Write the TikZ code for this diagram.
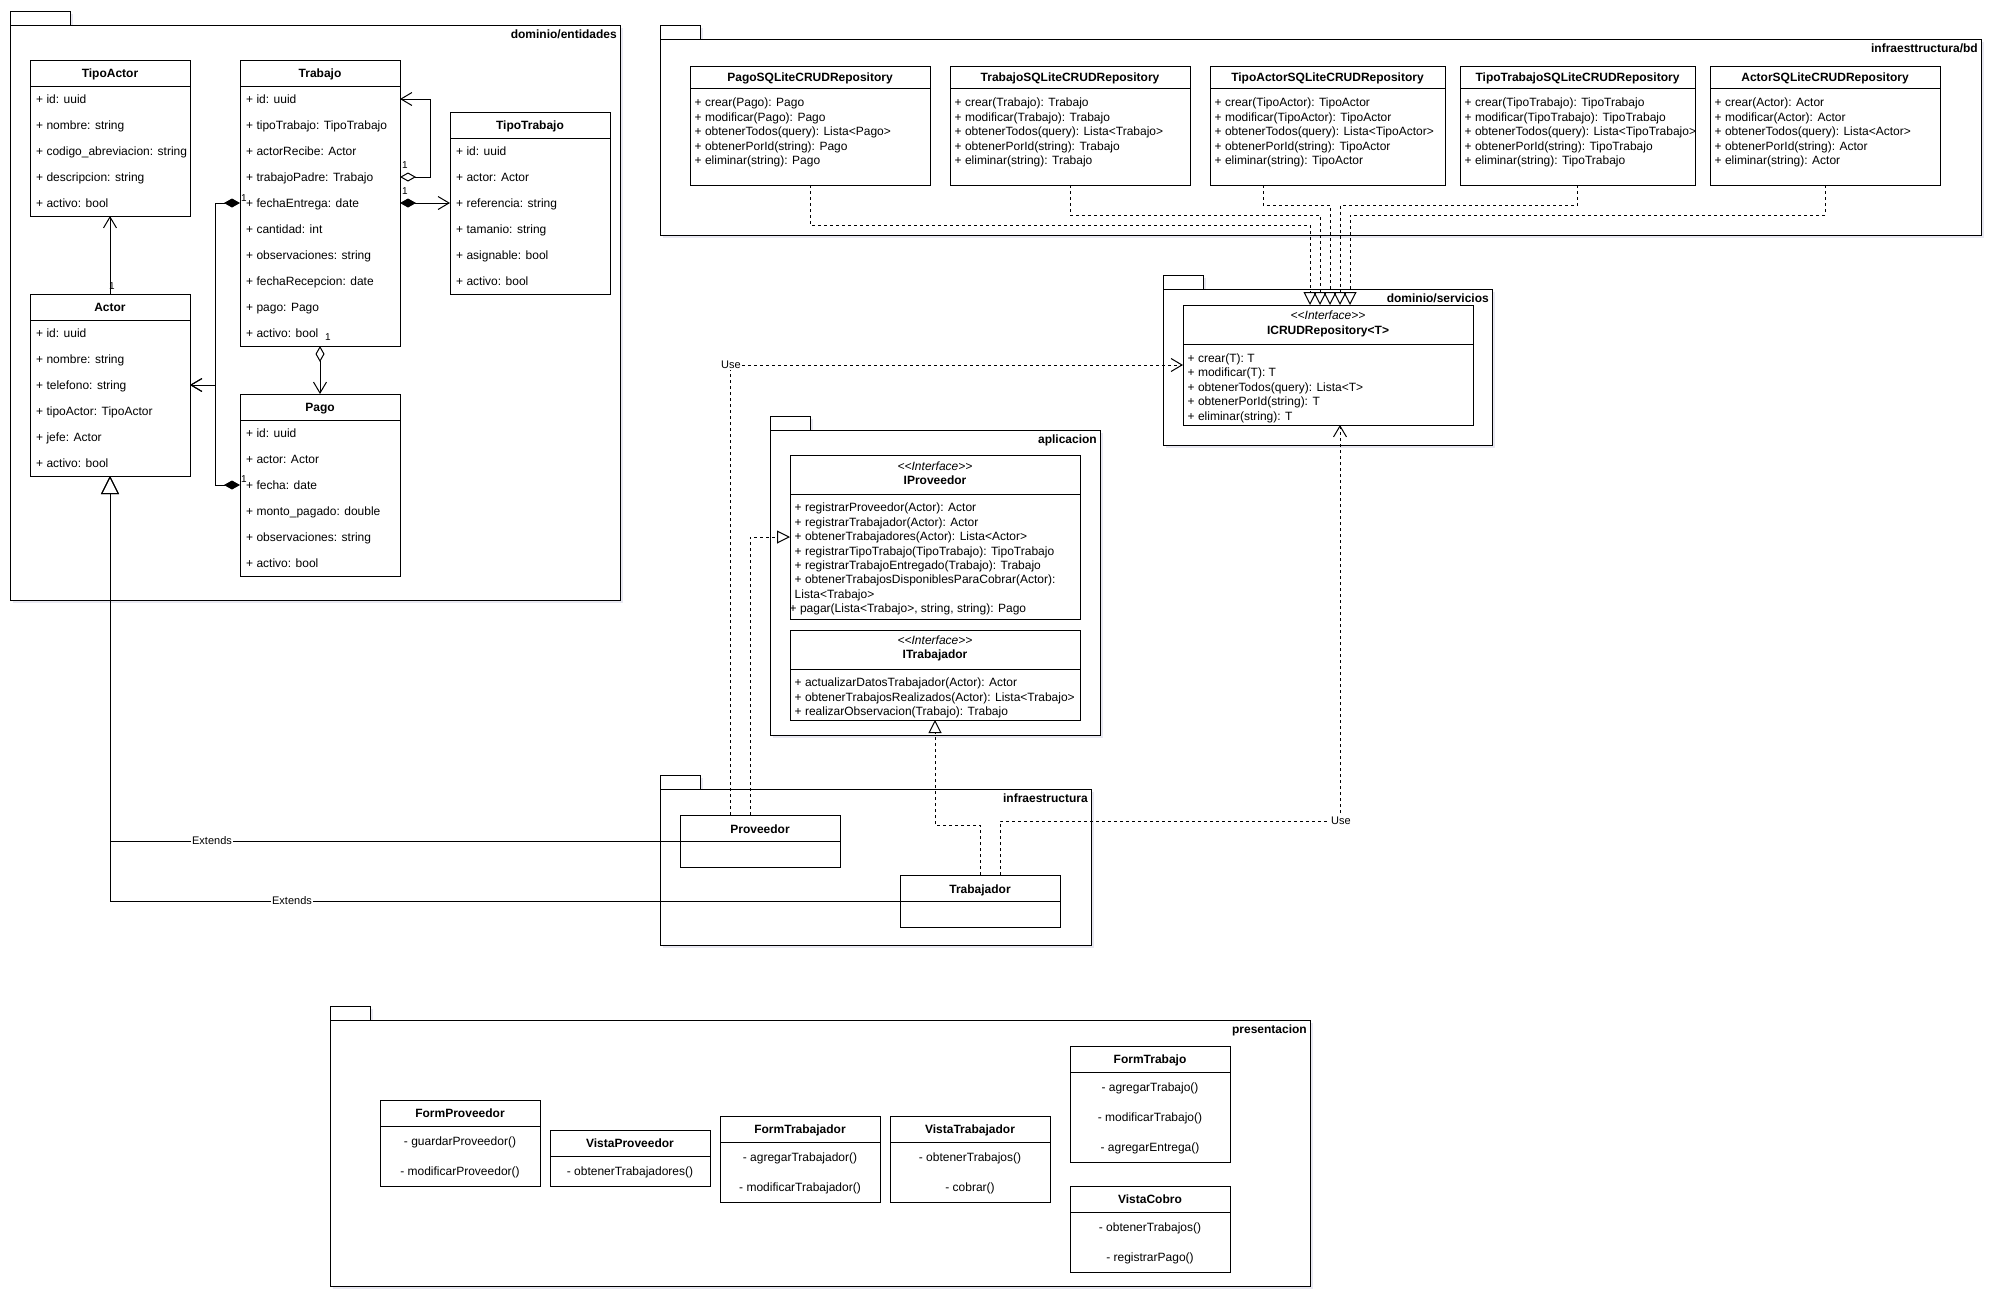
\documentclass[tikz,border=0pt]{standalone}
\usepackage{fontspec}
\setmainfont{Liberation Sans}[Ligatures=TeXOff]
\usetikzlibrary{arrows.meta}
\tikzset{
  ln/.style={line width=1pt},
  box/.style={draw, fill=white, line width=1pt, anchor=north west, inner sep=0pt, outer sep=0pt},
  pkg/.style={draw, fill=white, line width=1pt, anchor=north west, inner sep=0pt, outer sep=0pt},
  shd/.style={fill=black!60!blue, fill opacity=0.09, draw=none, anchor=north west, inner sep=0pt, outer sep=0pt},
  attr/.style={font=\fontsize{12}{14.4}\selectfont, anchor=base west, inner sep=0pt},
  citem/.style={font=\fontsize{12}{14.4}\selectfont, anchor=base, inner sep=0pt},
  ttl/.style={font=\fontsize{12}{14.4}\selectfont\bfseries, anchor=base, inner sep=0pt},
  ster/.style={font=\fontsize{12}{14.4}\selectfont\itshape, anchor=base, inner sep=0pt},
  pkgl/.style={font=\fontsize{12}{14.4}\selectfont\bfseries, anchor=base east, inner sep=0pt},
  mult/.style={font=\fontsize{10}{12}\selectfont, anchor=base, inner sep=0pt},
  elab/.style={font=\fontsize{11}{13}\selectfont, fill=white, inner sep=1pt, anchor=center},
  dsh/.style={line width=1pt, dash pattern=on 3pt off 3pt},
  umlOpen/.tip={Straight Barb[length=11pt,width=13pt]},
  umlFill/.tip={Diamond[length=16pt,width=9pt]},
  umlHollow/.tip={Diamond[open,length=16pt,width=9pt]},
  umlGen/.tip={Triangle[open,length=18pt,width=18pt]},
  umlReal/.tip={Triangle[open,length=13pt,width=13pt]},
}
% package: name, x, body top, w, h, tab w, label
\newcommand\umlpkg[7]{%
  \node[shd, minimum width=#4, minimum height=#5] (#1-shd) at ({#2+3},{#3+3}) {};
  \node[shd, minimum width=#6, minimum height=14] (#1-tshd) at ({#2+3},{#3-11}) {};
  \node[pkg, minimum width=#6, minimum height=14] (#1-tab) at (#2,{#3-14}) {};
  \node[pkg, minimum width=#4, minimum height=#5] (#1) at (#2,#3) {};
  \node[pkgl] (#1-lbl) at ({#2+#4-3},{#3+13.2}) {#7};
}
% entity class: name, x, y, height, title, rows
\newcommand\entclass[6]{%
  \node[box, minimum width=160, minimum height=#4] (#1) at (#2,#3) {};
  \draw[ln] ([yshift=-26pt]#1.north west) -- ([yshift=-26pt]#1.north east);
  \node[ttl] (#1-t) at ({#2+80},{#3+17.8}) {#5};
  \foreach \t [count=\i] in {#6} {\node[attr] (#1-\i) at ({#2+6},{#3+17.6+26*\i}) {\t};}
}
% presentation class: name, x, y, height, title, items
\newcommand\presclass[6]{%
  \node[box, minimum width=160, minimum height=#4] (#1) at (#2,#3) {};
  \draw[ln] ([yshift=-26pt]#1.north west) -- ([yshift=-26pt]#1.north east);
  \node[ttl] (#1-t) at ({#2+80},{#3+17.8}) {#5};
  \foreach \t [count=\i] in {#6} {\node[citem] (#1-\i) at ({#2+80},{#3+15.4+30*\i}) {\t};}
}
\begin{document}
\begin{tikzpicture}[x=1pt,y=-1pt]
\useasboundingbox (0,0) rectangle (1998,1304);
\fill[white] (0,0) rectangle (1998,1304);

% ---------------- packages
\umlpkg{ent}{10}{25}{610}{575}{60}{dominio/entidades}
\umlpkg{bd}{660}{39}{1321}{196}{40}{infraesttructura/bd}
\umlpkg{serv}{1163}{289}{329}{156}{40}{dominio/servicios}
\umlpkg{apl}{770}{430}{330}{305}{40}{aplicacion}
\umlpkg{infra}{660}{789}{431}{156}{40}{infraestructura}
\umlpkg{pres}{330}{1020}{980}{266}{40}{presentacion}

% ---------------- dominio/entidades
\entclass{tipoactor}{30}{60}{156}{TipoActor}{{+ id: uuid},{+ nombre: string},{+ codigo\_abreviacion: string},{+ descripcion: string},{+ activo: bool}}
\entclass{trabajo}{240}{60}{286}{Trabajo}{{+ id: uuid},{+ tipoTrabajo: TipoTrabajo},{+ actorRecibe: Actor},{+ trabajoPadre: Trabajo},{+ fechaEntrega: date},{+ cantidad: int},{+ observaciones: string},{+ fechaRecepcion: date},{+ pago: Pago},{+ activo: bool}}
\entclass{tipotrabajo}{450}{112}{182}{TipoTrabajo}{{+ id: uuid},{+ actor: Actor},{+ referencia: string},{+ tamanio: string},{+ asignable: bool},{+ activo: bool}}
\entclass{actor}{30}{294}{182}{Actor}{{+ id: uuid},{+ nombre: string},{+ telefono: string},{+ tipoActor: TipoActor},{+ jefe: Actor},{+ activo: bool}}
\entclass{pago}{240}{394}{182}{Pago}{{+ id: uuid},{+ actor: Actor},{+ fecha: date},{+ monto\_pagado: double},{+ observaciones: string},{+ activo: bool}}

% ---------------- infraesttructura/bd
\foreach \nm/\xx/\ww/\en in {pagorepo/690/240/Pago,trabajorepo/950/240/Trabajo,tarepo/1210/235/TipoActor,ttrepo/1460/235/TipoTrabajo,acrepo/1710/230/Actor}{
  \node[box, minimum width=\ww, minimum height=119] (\nm) at (\xx,66) {};
  \draw[ln] ([yshift=-22.7pt]\nm.north west) -- ([yshift=-22.7pt]\nm.north east);
  \node[ttl] (\nm-t) at ({\xx+\ww/2},81.5) {\en SQLiteCRUDRepository};
  \node[attr] (\nm-1) at ({\xx+4.5},106.9) {+ crear(\en): \en};
  \node[attr] (\nm-2) at ({\xx+4.5},121.3) {+ modificar(\en): \en};
  \node[attr] (\nm-3) at ({\xx+4.5},135.7) {+ obtenerTodos(query): Lista<\en>};
  \node[attr] (\nm-4) at ({\xx+4.5},150.1) {+ obtenerPorId(string): \en};
  \node[attr] (\nm-5) at ({\xx+4.5},164.5) {+ eliminar(string): \en};
}

% ---------------- dominio/servicios
\node[box, minimum width=290, minimum height=120] (icrud) at (1183,305) {};
\draw[ln] ([yshift=-39pt]icrud.north west) -- ([yshift=-39pt]icrud.north east);
\node[ster] (icrud-s) at (1328,319.2) {<<Interface>>};
\node[ttl] (icrud-t) at (1328,334.2) {ICRUDRepository<T>};
\foreach \t [count=\i] in {{+ crear(T): T},{+ modificar(T): T},{+ obtenerTodos(query): Lista<T>},{+ obtenerPorId(string): T},{+ eliminar(string): T}}
  {\node[attr] (icrud-\i) at (1187.5,{348.1+14.4*\i}) {\t};}

% ---------------- aplicacion
\node[box, minimum width=290, minimum height=164] (iprov) at (790,455) {};
\draw[ln] ([yshift=-39pt]iprov.north west) -- ([yshift=-39pt]iprov.north east);
\node[ster] (iprov-s) at (935,470.2) {<<Interface>>};
\node[ttl] (iprov-t) at (935,484.2) {IProveedor};
\foreach \t [count=\i] in {{+ registrarProveedor(Actor): Actor},{+ registrarTrabajador(Actor): Actor},{+ obtenerTrabajadores(Actor): Lista<Actor>},{+ registrarTipoTrabajo(TipoTrabajo): TipoTrabajo},{+ registrarTrabajoEntregado(Trabajo): Trabajo},{+ obtenerTrabajosDisponiblesParaCobrar(Actor):},{Lista<Trabajo>}}
  {\node[attr] (iprov-\i) at (794.5,{497.5+14.4*\i}) {\t};}
\node[attr] (iprov-8) at (789.5,612.7) {+ pagar(Lista<Trabajo>, string, string): Pago};

\node[box, minimum width=290, minimum height=90] (itrab) at (790,630) {};
\draw[ln] ([yshift=-39pt]itrab.north west) -- ([yshift=-39pt]itrab.north east);
\node[ster] (itrab-s) at (935,644.9) {<<Interface>>};
\node[ttl] (itrab-t) at (935,658.9) {ITrabajador};
\foreach \t [count=\i] in {{+ actualizarDatosTrabajador(Actor): Actor},{+ obtenerTrabajosRealizados(Actor): Lista<Trabajo>},{+ realizarObservacion(Trabajo): Trabajo}}
  {\node[attr] (itrab-\i) at (794.5,{672.5+14.4*\i}) {\t};}

% ---------------- infraestructura
\node[box, minimum width=160, minimum height=52] (proveedor) at (680,815) {};
\draw[ln] (proveedor.west) -- (proveedor.east);
\node[ttl] (proveedor-t) at (760,833.2) {Proveedor};
\node[box, minimum width=160, minimum height=52] (trabajador) at (900,875) {};
\draw[ln] (trabajador.west) -- (trabajador.east);
\node[ttl] (trabajador-t) at (980,893.2) {Trabajador};

% ---------------- presentacion
\presclass{formprov}{380}{1100}{86}{FormProveedor}{{- guardarProveedor()},{- modificarProveedor()}}
\presclass{vistaprov}{550}{1130}{56}{VistaProveedor}{{- obtenerTrabajadores()}}
\presclass{formtrab}{720}{1116}{86}{FormTrabajador}{{- agregarTrabajador()},{- modificarTrabajador()}}
\presclass{vistatrab}{890}{1116}{86}{VistaTrabajador}{{- obtenerTrabajos()},{- cobrar()}}
\presclass{formtrabajo}{1070}{1046}{116}{FormTrabajo}{{- agregarTrabajo()},{- modificarTrabajo()},{- agregarEntrega()}}
\presclass{vistacobro}{1070}{1186}{86}{VistaCobro}{{- obtenerTrabajos()},{- registrarPago()}}

% ---------------- connectors: entidades
\draw[ln, -umlOpen] (actor.north) -- (tipoactor.south);
\draw[ln, umlHollow-umlOpen] ([yshift=-117pt]trabajo.north east) -- ++(30,0) |- ([yshift=-39pt]trabajo.north east);
\draw[ln, umlFill-umlOpen] ([yshift=-143pt]trabajo.north east) -- (tipotrabajo.west);
\draw[ln, umlFill-umlOpen] ([yshift=-143pt]trabajo.north west) -- ++(-25,0) |- ([yshift=-91pt]actor.north east);
\draw[ln, umlFill-umlOpen] ([yshift=-91pt]pago.north west) -- ++(-25,0) |- ([yshift=-91pt]actor.north east);
\draw[ln, umlHollow-umlOpen] (trabajo.south) -- (pago.north);
\node[mult] (m1) at (112,289.6) {1};
\node[mult] (m2) at (405,168.6) {1};
\node[mult] (m3) at (405,194.6) {1};
\node[mult] (m4) at (244,201.6) {1};
\node[mult] (m5) at (244,482.6) {1};
\node[mult] (m6) at (328,340.6) {1};

% generalizations
\draw[ln, -umlGen] (proveedor.west) -| (actor.south);
\draw[ln, -umlGen] (trabajador.west) -| (actor.south);
\node[elab] (ext1) at (212,841) {Extends};
\node[elab] (ext2) at (292,901) {Extends};

% repositories realize ICRUDRepository
\draw[dsh, -umlReal] (pagorepo.south) -- ++(0,40) -| ([xshift=127pt]icrud.north west);
\draw[dsh, -umlReal] (trabajorepo.south) -- ++(0,30) -| ([xshift=137pt]icrud.north west);
\draw[dsh, -umlReal] ([xshift=53pt]tarepo.south west) -- ++(0,20) -| ([xshift=147pt]icrud.north west);
\draw[dsh, -umlReal] (ttrepo.south) -- ++(0,20) -| ([xshift=157pt]icrud.north west);
\draw[dsh, -umlReal] (acrepo.south) -- ++(0,30) -| ([xshift=167pt]icrud.north west);

% Proveedor
\draw[dsh, -umlOpen] ([xshift=50pt]proveedor.north west) |- (icrud.west);
\draw[dsh, -umlReal] ([xshift=70pt]proveedor.north west) |- ([yshift=-82pt]iprov.north west);
\node[elab] (use1) at (731,365) {Use};

% Trabajador
\draw[dsh, -umlReal] ([xshift=80pt]trabajador.north west) -- ++(0,-50) -| (itrab.south);
\draw[dsh, -umlOpen] ([xshift=100pt]trabajador.north west) -- ++(0,-54) -| ([xshift=157pt]icrud.south west);
\node[elab] (use2) at (1341,821) {Use};
\end{tikzpicture}
\end{document}
